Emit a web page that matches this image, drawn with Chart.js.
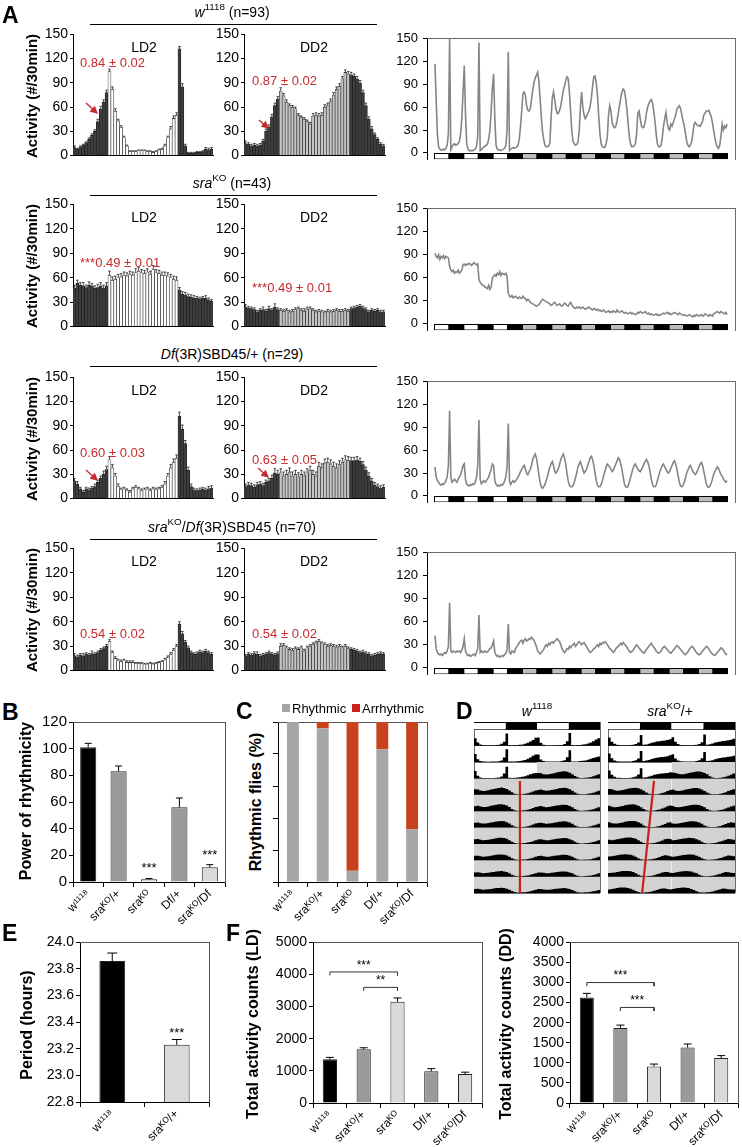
<!DOCTYPE html>
<html>
<head>
<meta charset="utf-8">
<script src="https://cdn.jsdelivr.net/npm/chart.js@4.4.1/dist/chart.umd.min.js"></script>
<style>
  body { margin: 0; background: #fff; }
  #page { position: relative; width: 742px; height: 1147px; overflow: hidden; font-family: "Liberation Sans", Arial, sans-serif; color: #000; }
  #page canvas { position: absolute; }
  .txt { position: absolute; white-space: nowrap; line-height: 1; z-index: 2; }
  .yt { position: absolute; white-space: nowrap; line-height: 1; font-weight: bold; z-index: 2; transform: translate(-50%, -50%) rotate(-90deg); }
  .rule { position: absolute; height: 0; border-top: 1.5px solid #000; }
  .sq { position: absolute; width: 8px; height: 8px; }
  sup { font-size: 70%; line-height: 0; position: relative; top: -0.1em; vertical-align: super; }
</style>
</head>
<body>
<div id="page"></div>
<script>
// ---------- data ----------
// 30-min activity profiles, bins from ZT18 (LD2) / CT18 (DD2)
const ldW1118 = [10,8,11,13,16,20,25,30,42,58,66,78, 104,82,55,43,35,22,12,5,5,5,6,6,6,5,5,4,5,7,8,12,22,33,46,50, 132,85,12,3,3,3,4,4,5,8,7,8];
const ldW1118Err = [2,1,1,1,1,2,2,2,3,3,3,3, 3,3,3,2,2,2,1,1,1,1,1,1,1,1,1,1,1,1,1,2,2,3,3,3, 3,4,2,1,1,1,1,1,1,2,2,2];
const ddW1118 = [15,14,12,13,12,13,18,30,35,48,62,70, 80,74,66,62,60,58,50,47,45,42,39,49,50,49,50,60,62,67,75,82,86,95,103,101, 100,98,95,90,78,62,45,33,26,20,14,12];
const ddW1118Err = [3,2,2,2,2,2,2,3,3,3,3,3, 4,3,3,2,2,2,2,2,2,2,2,3,3,3,3,3,3,3,3,3,3,3,3,3, 3,3,3,3,3,3,3,3,2,2,2,2];
const ldSra = [47,53,51,50,48,51,50,47,48,50,47,50, 63,57,58,60,61,63,62,64,63,66,68,66,65,67,64,70,66,65,63,63,62,60,58,57, 45,40,39,37,36,35,35,34,35,35,33,31];
const ldSraErr = [4,4,3,4,3,4,3,3,4,4,4,4, 5,4,4,4,4,4,4,4,4,5,5,4,4,4,4,5,4,4,4,4,4,4,4,4, 3,3,3,3,3,3,2,2,2,3,2,2];
const ddSra = [24,23,22,21,18,20,21,19,22,20,24,21, 20,19,20,18,19,21,22,20,19,21,22,20,18,19,18,17,19,18,19,20,19,19,20,19, 22,23,24,25,23,21,18,20,19,20,18,18];
const ddSraErr = [3,2,2,2,2,2,3,2,3,2,4,2, 2,2,2,2,2,2,2,2,3,3,2,2,2,2,2,2,2,2,2,2,2,2,2,2, 2,2,2,2,2,2,2,2,2,2,2,2];
const ldDf = [22,18,12,8,12,11,13,15,20,25,30,36, 48,38,28,15,11,12,10,8,12,14,12,10,11,12,10,12,11,12,14,18,28,38,45,50, 102,86,68,35,15,11,10,11,12,11,12,13];
const ldDfErr = [3,3,2,2,2,2,2,3,3,3,4,4, 4,4,3,3,2,2,2,2,2,2,2,2,2,2,2,2,2,2,2,3,3,4,4,4, 5,5,4,4,3,2,2,2,2,2,3,3];
const ddDf = [15,17,16,14,17,18,16,20,22,25,32,30, 32,28,30,33,28,30,27,30,28,32,35,30,28,40,38,44,45,43,40,38,42,45,48,47, 47,47,48,46,42,35,28,22,17,15,13,14];
const ddDfErr = [3,3,3,3,3,3,3,3,3,4,5,5, 5,5,5,5,5,5,5,5,5,5,5,5,5,5,5,5,5,5,5,5,5,5,5,5, 4,4,4,4,4,4,4,3,3,3,3,3];
const ldSraDf = [18,17,19,18,20,19,21,20,22,25,27,30, 36,22,15,12,11,12,10,10,10,9,9,9,8,8,9,8,9,10,11,13,16,20,25,30, 57,45,35,28,22,20,21,23,22,24,22,20];
const ldSraDfErr = [3,2,2,3,2,2,3,2,2,2,2,2, 2,2,2,2,2,2,2,2,2,1,1,1,1,1,1,1,1,1,1,2,2,2,2,2, 3,3,2,2,2,2,2,2,2,2,2,2];
const ddSraDf = [18,20,19,21,20,18,19,20,22,20,19,21, 30,31,28,26,25,27,26,28,24,28,30,32,34,36,33,32,30,31,30,29,30,28,30,27, 26,25,24,22,23,21,20,18,19,20,21,20];
const ddSraDfErr = [2,2,2,2,3,2,2,2,2,2,2,2, 3,2,2,2,2,2,2,2,2,2,2,2,2,2,2,2,2,2,2,2,2,2,2,2, 2,2,2,2,2,2,2,2,2,2,2,2];

// hourly activity over 10 days (3 LD + 7 DD)
const traceW1118 = [
  117,70,25,8,5,4,4,5,4,6,10,25,150,4,8,11,12,10,11,12,15,25,45,80,
  115,50,12,5,3,3,3,3,4,5,8,22,145,3,4,6,8,9,10,12,18,30,55,85,
  104,45,10,5,4,4,3,4,5,6,10,30,133,3,5,6,7,6,7,8,10,18,35,55,
  78,80,76,62,56,55,58,70,82,92,98,102,106,95,72,48,28,18,10,8,8,9,12,45,
  72,80,70,58,52,52,56,62,72,82,88,95,100,98,80,55,28,15,12,10,11,14,28,60,
  80,60,50,45,48,52,55,62,72,88,100,101,92,75,48,25,12,8,7,7,12,20,50,62,
  55,40,35,33,35,42,52,62,72,80,84,82,72,58,40,22,12,8,8,9,12,25,52,55,
  45,35,33,34,40,52,60,65,68,70,66,55,42,25,12,8,8,10,20,35,45,53,40,32,
  30,38,35,40,45,50,58,60,62,58,50,42,35,25,15,10,8,10,15,25,38,40,37,36,
  36,35,38,42,50,52,55,55,56,52,48,40,30,20,12,8,6,10,22,38,30,35,33,38
];
const traceSra = [
  92,88,86,90,84,88,86,89,85,88,87,86, 75,70,68,70,66,68,67,70,66,68,70,77,
  78,76,78,77,79,78,76,78,80,78,77,78, 58,54,52,50,50,48,47,46,50,45,48,60,
  62,64,62,66,64,68,63,66,65,64,66,62, 40,36,35,37,34,35,36,34,33,35,34,33,
  36,34,33,30,32,31,28,27,26,25,24,23, 24,25,27,30,32,31,30,29,28,27,26,24,
  25,27,28,26,24,25,26,24,23,25,27,26, 24,23,26,28,25,22,21,20,22,21,22,20,
  21,22,20,19,20,21,22,20,19,18,20,19, 18,19,17,18,16,17,18,16,15,16,17,15,
  16,15,17,16,15,18,16,15,16,17,15,14, 15,14,13,14,15,13,14,13,12,13,15,14,
  16,15,14,15,16,14,13,14,12,13,12,11, 12,13,11,12,11,12,13,14,13,14,15,13,
  14,12,13,14,15,14,13,12,14,13,12,11, 12,11,10,11,12,11,10,9,11,10,12,11,
  10,11,12,10,11,13,12,11,10,12,11,10, 13,14,15,16,15,14,16,15,14,13,15,12
];
const traceDf = [
  38,25,20,18,15,14,16,15,17,20,25,40,112,25,18,20,22,20,18,22,25,28,33,40,
  42,22,15,14,13,15,14,16,15,18,24,40,100,22,16,18,20,18,20,22,25,30,35,42,
  40,20,15,13,14,13,15,14,16,20,25,38,95,20,15,18,20,18,20,22,25,28,32,35,
  38,40,35,30,28,32,35,40,48,52,55,50,40,28,18,12,10,12,15,20,25,32,38,42,
  45,40,32,30,33,36,42,48,52,55,50,42,30,20,14,12,12,14,18,24,30,38,42,45,
  40,35,30,32,35,40,45,50,52,48,40,30,20,14,12,12,15,20,26,32,38,42,40,38,
  35,32,34,38,42,46,50,48,42,35,25,16,12,11,13,18,24,30,36,40,42,38,35,33,
  32,35,38,42,45,48,45,40,32,22,15,12,12,14,20,26,32,36,40,42,38,35,32,30,
  32,36,40,44,46,42,35,26,18,13,12,14,18,24,30,34,38,40,36,32,30,28,30,34,
  38,42,44,40,32,24,16,12,11,13,17,22,28,32,35,38,36,32,28,26,22,20,18,20
];
const traceSraDf = [
  42,25,20,18,17,18,16,18,20,19,22,28,85,22,20,22,21,20,22,21,22,20,23,28,
  38,22,18,16,17,15,16,17,18,16,20,25,69,20,22,20,21,22,20,21,23,25,26,30,
  35,20,17,15,16,14,15,16,15,17,19,23,57,20,18,22,21,20,25,28,30,33,35,36,
  32,36,38,35,36,38,37,40,38,36,32,28,22,20,18,20,22,24,28,30,28,32,30,33,
  34,32,35,36,38,36,34,30,25,22,20,22,25,24,28,26,29,30,32,28,30,33,34,32,
  30,32,33,30,28,25,22,20,21,23,25,26,28,30,28,32,30,33,32,34,33,30,28,25,
  24,22,20,22,25,27,28,30,32,30,33,31,29,27,24,22,20,21,23,25,28,30,28,26,
  24,22,20,19,21,24,26,28,30,32,29,27,25,22,20,19,20,22,25,27,28,26,24,22,
  20,19,21,23,25,27,29,28,26,24,22,20,18,17,19,21,24,26,28,27,25,22,20,18,
  17,18,20,22,24,26,28,27,25,22,20,18,17,16,18,20,22,24,26,25,23,20,18,17
];
// light regime of each 12 h block: L light, D dark, S subjective day
const traceRegime = ['L','D','L','D','L','D','S','D','S','D','S','D','S','D','S','D','S','D','S','D'];

// B, C, E, F
const genoLabels = ['w¹¹¹⁸', 'sraᴷᴼ/+', 'sraᴷᴼ', 'Df/+', 'sraᴷᴼ/Df'];
const powerRhythm = [101, 83, 2, 56, 11];
const powerRhythmErr = [3, 4, 0.6, 7, 2];
const rhythmicPct = [100, 96, 7, 83, 33];
const arrhythmicPct = [0, 4, 93, 17, 67];
const periodLabels = ['w¹¹¹⁸', 'sraᴷᴼ/+'];
const periodHours = [23.86, 23.23];
const periodErr = [0.06, 0.04];
const totalLD = [1360, 1670, 3150, 990, 900];
const totalLDErr = [60, 50, 120, 80, 60];
const totalDD = [2630, 1870, 910, 1380, 1120];
const totalDDErr = [100, 70, 60, 90, 60];

// D: double-plotted actograms, hourly, 0-10 = fraction of row height
const actoDays = ['LD','LD','LD','DD','DD','DD','DD','DD','DD','DD','DD'];
const actoHeader = ['L','D','L','D'];
const actoW1118 = [
  [4.5,2.0,0.8,0.4,0.3,0.3,0.3,0.3,0.4,0.6,1.2,2.5,7.5,0.4,0.3,0.4,0.5,0.6,0.8,1.2,1.8,2.6,3.5,4.8],
  [5.0,1.8,0.6,0.3,0.3,0.2,0.3,0.3,0.4,0.5,1.0,2.8,7.8,0.4,0.3,0.4,0.5,0.7,0.9,1.3,2.0,2.8,3.8,4.6],
  [4.6,1.6,0.6,0.3,0.3,0.3,0.3,0.3,0.4,0.6,1.2,3.0,7.2,0.4,0.3,0.4,0.6,0.8,1.0,1.4,2.0,2.5,3.0,3.4],
  [3.4,3.2,2.6,2.4,2.5,2.8,3.2,3.6,3.9,4.2,4.4,4.1,3.5,2.6,1.5,0.7,0.3,0.3,0.4,0.6,0.9,1.4,2.0,2.6],
  [3.0,3.3,2.8,2.5,2.6,2.9,3.3,3.6,4.0,4.2,4.3,4.0,3.4,2.5,1.4,0.6,0.3,0.3,0.4,0.6,0.9,1.3,1.9,2.5],
  [2.9,3.1,2.7,2.4,2.5,2.8,3.1,3.4,3.7,3.9,4.0,3.8,3.2,2.4,1.4,0.6,0.3,0.3,0.4,0.5,0.8,1.2,1.8,2.4],
  [2.8,3.0,2.6,2.3,2.4,2.6,2.9,3.2,3.5,3.7,3.8,3.6,3.1,2.3,1.3,0.6,0.3,0.3,0.4,0.5,0.8,1.2,1.7,2.3],
  [2.7,2.8,2.5,2.2,2.3,2.5,2.8,3.1,3.3,3.5,3.6,3.4,2.9,2.2,1.3,0.6,0.3,0.3,0.4,0.5,0.8,1.1,1.6,2.2],
  [2.6,2.7,2.4,2.1,2.2,2.4,2.7,2.9,3.1,3.3,3.4,3.2,2.8,2.1,1.2,0.6,0.3,0.3,0.4,0.5,0.7,1.1,1.6,2.1],
  [2.5,2.6,2.3,2.0,2.1,2.3,2.5,2.8,3.0,3.1,3.2,3.0,2.6,2.0,1.2,0.6,0.3,0.3,0.4,0.5,0.7,1.0,1.5,2.0],
  [2.4,2.5,2.2,2.0,2.0,2.2,2.4,2.6,2.8,2.9,3.0,2.8,2.5,1.9,1.1,0.5,0.3,0.3,0.4,0.5,0.7,1.0,1.4,1.9]
];
const actoSraHet = [
  [5.0,2.5,1.2,0.6,0.4,0.3,0.3,0.3,0.4,0.6,1.0,2.0,6.5,0.6,0.8,1.2,1.8,2.2,2.6,2.8,3.0,3.2,3.5,4.0],
  [5.2,2.4,1.0,0.5,0.4,0.3,0.3,0.3,0.4,0.6,1.1,2.2,6.8,0.6,0.9,1.3,1.9,2.3,2.6,2.9,3.1,3.3,3.6,4.2],
  [4.8,2.2,1.0,0.5,0.4,0.3,0.3,0.3,0.4,0.7,1.2,2.4,6.2,0.6,0.8,1.2,1.7,2.2,2.5,2.8,3.0,3.2,3.4,3.8],
  [3.6,3.4,2.8,2.5,2.6,2.9,3.3,3.7,4.0,4.2,4.3,4.0,3.4,2.5,1.4,0.6,0.3,0.3,0.4,0.7,1.1,1.6,2.3,3.0],
  [3.3,2.7,2.4,2.5,2.8,3.2,3.6,3.9,4.1,4.2,3.9,3.3,2.4,1.4,0.6,0.3,0.3,0.4,0.7,1.1,1.6,2.3,3.0,3.4],
  [3.2,2.6,2.4,2.5,2.8,3.1,3.5,3.8,4.0,4.0,3.8,3.2,2.4,1.3,0.6,0.3,0.3,0.4,0.7,1.0,1.6,2.2,2.9,3.3],
  [2.5,2.3,2.5,2.8,3.1,3.4,3.7,3.9,3.9,3.6,3.1,2.3,1.3,0.6,0.3,0.3,0.4,0.6,1.0,1.5,2.1,2.8,3.2,3.0],
  [2.3,2.4,2.7,3.0,3.3,3.5,3.7,3.6,3.4,2.9,2.2,1.3,0.6,0.3,0.3,0.4,0.6,1.0,1.4,2.0,2.6,3.0,2.9,2.5],
  [2.2,2.3,2.6,2.9,3.2,3.4,3.5,3.5,3.3,2.8,2.1,1.2,0.6,0.3,0.3,0.4,0.6,0.9,1.4,1.9,2.5,2.9,2.8,2.4],
  [2.2,2.5,2.8,3.1,3.3,3.4,3.3,3.1,2.6,2.0,1.2,0.6,0.3,0.3,0.4,0.6,0.9,1.3,1.8,2.4,2.8,2.7,2.4,2.2],
  [2.4,2.7,3.0,3.2,3.3,3.2,3.0,2.5,1.9,1.1,0.5,0.3,0.3,0.4,0.6,0.9,1.3,1.8,2.3,2.7,2.6,2.3,2.1,2.2]
];

// ---------- setup ----------
const FONT = '"Liberation Sans", Arial, sans-serif';
Chart.defaults.font.family = FONT;
Chart.defaults.font.size = 13;
Chart.defaults.color = '#000';
Chart.defaults.animation = false;
Chart.defaults.plugins.legend.display = false;
Chart.defaults.plugins.tooltip.enabled = false;

const DARK = '#3d3d3d', DDGREY = '#c4c4c4', MID = '#9a9a9a', PALE = '#d9d9d9', RED = '#c62a2c';
const regimeColor = {L: '#ffffff', D: '#000000', S: '#bcbcbc'};
const page = document.getElementById('page');

function canvasFor(area, pad) {
  const c = document.createElement('canvas');
  const left = area.l - pad.l, top = area.t - pad.t;
  const w = area.r - left + pad.r, h = area.b - top + pad.b;
  c.width = w; c.height = h;
  c.style.left = left + 'px'; c.style.top = top + 'px';
  c.style.width = w + 'px'; c.style.height = h + 'px';
  page.appendChild(c);
  return c;
}

const errPlugin = {
  id: 'errbars',
  afterDatasetsDraw(chart, args, opts) {
    const ctx = chart.ctx, ys = chart.scales.y;
    chart.data.datasets.forEach((ds, di) => {
      if (!ds.errs) return;
      const meta = chart.getDatasetMeta(di);
      ctx.save();
      ctx.strokeStyle = opts.color || '#000';
      ctx.lineWidth = opts.width || 1;
      meta.data.forEach((bar, i) => {
        const top = ys.getPixelForValue(ds.data[i] + ds.errs[i]);
        ctx.beginPath();
        ctx.moveTo(bar.x, bar.y);
        ctx.lineTo(bar.x, top);
        ctx.moveTo(bar.x - opts.cap, top);
        ctx.lineTo(bar.x + opts.cap, top);
        ctx.stroke();
      });
      ctx.restore();
    });
  }
};

const notePlugin = {
  id: 'notes',
  afterDatasetsDraw(chart, args, opts) {
    const ctx = chart.ctx;
    ctx.save();
    ctx.fillStyle = '#000';
    ctx.font = (opts.size || 13) + 'px ' + FONT;
    ctx.textAlign = 'center';
    ctx.textBaseline = 'middle';
    (opts.items || []).forEach(n => {
      ctx.fillText(n.text, chart.scales.x.getPixelForValue(n.i), chart.scales.y.getPixelForValue(n.v));
    });
    ctx.restore();
  }
};

function frameScales(color) {
  return {
    xt: {type: 'linear', position: 'top', grid: {display: false}, ticks: {display: false}, border: {color: color}, afterFit: s => { s.height = 0; }},
    yr: {type: 'linear', position: 'right', grid: {display: false}, ticks: {display: false}, border: {color: color}, afterFit: s => { s.width = 0; }}
  };
}

// ---------- panel A ----------
function profileChart(area, values, errs, lightColor) {
  const pad = {l: 40, t: 10, r: 3, b: 3};
  new Chart(canvasFor(area, pad), {
    type: 'bar',
    data: {
      labels: values.map((v, i) => i),
      datasets: [{
        data: values, errs: errs,
        backgroundColor: values.map((v, i) => (i < 12 || i >= 36) ? DARK : lightColor),
        borderColor: '#1a1a1a', borderWidth: 0.6,
        barPercentage: 1, categoryPercentage: 1
      }]
    },
    options: {
      responsive: false,
      layout: {autoPadding: false, padding: {top: pad.t, right: pad.r}},
      scales: {
        x: {grid: {display: false}, ticks: {display: false}, border: {color: '#000'}, afterFit: s => { s.height = pad.b; }},
        y: {min: 0, max: 150, ticks: {stepSize: 30, font: {size: 14}, padding: 2},
            grid: {drawOnChartArea: false, tickLength: 3, color: '#000'}, border: {color: '#000'},
            afterFit: s => { s.width = pad.l; }}
      },
      plugins: {errbars: {cap: 1.3, width: 0.8, color: '#222'}}
    },
    plugins: [errPlugin]
  });
}

function traceChart(area, values) {
  const pad = {l: 34, t: 8, r: 3, b: 2};
  new Chart(canvasFor(area, pad), {
    data: {
      datasets: [
        {type: 'line', data: values.map((v, i) => ({x: i + 0.5, y: v})), borderColor: '#858585', borderWidth: 1.6, pointRadius: 0, order: 1},
        {type: 'bar', data: traceRegime.map((p, k) => ({x: 6 + 12 * k, y: [-8.3, 0]})),
         backgroundColor: traceRegime.map(p => regimeColor[p]), borderColor: '#000', borderWidth: 1,
         borderSkipped: false, barPercentage: 1, categoryPercentage: 1, order: 2}
      ]
    },
    options: {
      responsive: false,
      layout: {autoPadding: false, padding: {top: pad.t, right: pad.r}},
      scales: {
        x: {type: 'linear', min: 0, max: 240, ticks: {display: false, stepSize: 12}, grid: {display: false}, border: {display: false}, afterFit: s => { s.height = pad.b; }},
        y: {min: -8.3, max: 150, ticks: {stepSize: 30, includeBounds: false, font: {size: 13}, padding: 5},
            grid: {drawOnChartArea: false, tickLength: 4, color: '#000'}, border: {color: '#000'},
            afterFit: s => { s.width = pad.l; }},
        ...frameScales('#6a6a6a')
      }
    }
  });
}

const rowTop = [34, 204, 377, 548];
const rowBottom = [163, 334, 506, 678];
const rows = [
  [ldW1118, ldW1118Err, ddW1118, ddW1118Err, traceW1118],
  [ldSra, ldSraErr, ddSra, ddSraErr, traceSra],
  [ldDf, ldDfErr, ddDf, ddDfErr, traceDf],
  [ldSraDf, ldSraDfErr, ddSraDf, ddSraDfErr, traceSraDf]
];
rows.forEach((r, k) => {
  profileChart({l: 73, t: rowTop[k], r: 213, b: rowBottom[k]}, r[0], r[1], '#ffffff');
  profileChart({l: 244, t: rowTop[k], r: 385, b: rowBottom[k]}, r[2], r[3], DDGREY);
  traceChart({l: 427, t: rowTop[k], r: 735, b: rowBottom[k] + 7}, r[4]);
});

// ---------- panel B ----------
const genoColors = ['#000000', MID, PALE, MID, PALE];
const catX = (rot) => ({
  grid: {drawOnChartArea: false, tickLength: 5, color: '#000'}, border: {color: '#000'},
  ticks: {font: {size: 12}, minRotation: rot, maxRotation: rot, autoSkip: false, padding: 0}
});
(function () {
  const pad = {l: 46, t: 10, r: 3, b: 62};
  new Chart(canvasFor({l: 73, t: 721, r: 225, b: 882}, pad), {
    type: 'bar',
    data: {labels: genoLabels, datasets: [{data: powerRhythm, errs: powerRhythmErr, backgroundColor: genoColors, borderColor: '#222', borderWidth: 1, barPercentage: 0.53, categoryPercentage: 1}]},
    options: {
      responsive: false,
      layout: {autoPadding: false, padding: {top: pad.t, right: pad.r}},
      scales: {
        x: {...catX(45), afterFit: s => { s.height = pad.b; }},
        y: {min: 0, max: 120, ticks: {stepSize: 20, font: {size: 15}, padding: 2},
            grid: {drawOnChartArea: false, tickLength: 4, color: '#000'}, border: {color: '#000'},
            afterFit: s => { s.width = pad.l; }},
        ...frameScales('#555')
      },
      plugins: {errbars: {cap: 3.5, width: 1}, notes: {size: 13, items: [{i: 2, v: 10, text: '***'}, {i: 4, v: 20, text: '***'}]}}
    },
    plugins: [errPlugin, notePlugin]
  });
})();

// ---------- panel C ----------
(function () {
  const pad = {l: 8, t: 10, r: 3, b: 62};
  new Chart(canvasFor({l: 278, t: 722, r: 427, b: 882}, pad), {
    type: 'bar',
    data: {labels: genoLabels, datasets: [
      {label: 'Rhythmic', data: rhythmicPct, backgroundColor: '#a6a6a6', barPercentage: 0.4, categoryPercentage: 1},
      {label: 'Arrhythmic', data: arrhythmicPct, backgroundColor: '#c8431d', barPercentage: 0.4, categoryPercentage: 1}
    ]},
    options: {
      responsive: false,
      layout: {autoPadding: false, padding: {top: pad.t, right: pad.r}},
      scales: {
        x: {...catX(45), stacked: true, afterFit: s => { s.height = pad.b; }},
        y: {stacked: true, min: 0, max: 100, ticks: {stepSize: 20, display: false},
            grid: {drawOnChartArea: false, tickLength: 5, color: '#000'}, border: {color: '#000'},
            afterFit: s => { s.width = pad.l; }},
        ...frameScales('#555')
      }
    }
  });
})();

// ---------- panel D ----------
// a filled band between y0 and y1 over [x0, x1]
function band(x0, x1, y0, y1, fillColor, lineColor, order) {
  return {type: 'line', data: [{x: x0, y: y1}, {x: x1, y: y1}], fill: {value: y0},
    backgroundColor: fillColor, borderColor: lineColor || fillColor, borderWidth: lineColor ? 1 : 0,
    pointRadius: 0, order: order};
}
function actogram(area, days, redLine) {
  const datasets = [];
  // light/dark bar on top
  actoHeader.forEach((p, k) => datasets.push(band(12 * k, 12 * k + 12, 10, 10.42, regimeColor[p], '#000', 5)));
  datasets.push({type: 'line', data: [{x: 0, y: 10}, {x: 48, y: 10}], borderColor: '#000', borderWidth: 1, pointRadius: 0, order: 5});
  // grey shading of constant-darkness halves
  for (let r = 0; r < 10; r++) {
    for (let h = 0; h < 2; h++) {
      if (actoDays[r + h] === 'DD') datasets.push(band(24 * h, 24 * h + 24, 9 - r, 10 - r, '#d2d2d2', null, 4));
    }
  }
  for (let r = 0; r < 10; r++) {
    const base = 9 - r;
    const pts = [];
    [days[r], days[r + 1]].forEach((day, h) => day.forEach((v, i) => pts.push({x: 24 * h + i, y: base + v / 10})));
    pts.push({x: 48, y: base});
    datasets.push({type: 'line', data: pts, stepped: true, fill: {value: base},
      backgroundColor: '#000', borderColor: '#000', borderWidth: 0, pointRadius: 0, order: 2});
  }
  datasets.push({type: 'line', data: redLine, borderColor: '#c81e1e', borderWidth: 2.2, pointRadius: 0, order: 1});
  new Chart(canvasFor(area, {l: 1, t: 1, r: 1, b: 1}), {
    data: {datasets},
    options: {
      responsive: false,
      layout: {autoPadding: false, padding: {top: 1, right: 1}},
      scales: {
        x: {type: 'linear', min: 0, max: 48, z: 1, ticks: {display: false, stepSize: 48}, grid: {color: '#6a6a6a', drawTicks: false}, border: {display: false}, afterFit: s => { s.height = 1; }},
        y: {min: 0, max: 10.45, z: 1, ticks: {display: false, stepSize: 1}, grid: {color: '#6a6a6a', drawTicks: false}, border: {display: false}, afterFit: s => { s.width = 1; }}
      }
    }
  });
}
actogram({l: 474, t: 722, r: 600, b: 893}, actoW1118, [{x: 17.5, y: 6.85}, {x: 17.5, y: 0}]);
actogram({l: 608, t: 722, r: 735, b: 893}, actoSraHet, [{x: 17.4, y: 6.85}, {x: 12.9, y: 0}]);

// ---------- panel E ----------
(function () {
  const pad = {l: 48, t: 10, r: 3, b: 44};
  new Chart(canvasFor({l: 80, t: 942, r: 209, b: 1102}, pad), {
    type: 'bar',
    data: {labels: periodLabels, datasets: [{data: periodHours, errs: periodErr, backgroundColor: ['#000000', PALE], borderColor: '#222', borderWidth: 1, barPercentage: 0.4, categoryPercentage: 1}]},
    options: {
      responsive: false,
      layout: {autoPadding: false, padding: {top: pad.t, right: pad.r}},
      scales: {
        x: {...catX(45), afterFit: s => { s.height = pad.b; }},
        y: {min: 22.8, max: 24.0, ticks: {stepSize: 0.2, font: {size: 14}, padding: 2, callback: v => v.toFixed(1)},
            grid: {drawOnChartArea: false, tickLength: 4, color: '#000'}, border: {color: '#000'},
            afterFit: s => { s.width = pad.l; }},
        ...frameScales('#555')
      },
      plugins: {errbars: {cap: 5, width: 1}, notes: {size: 13, items: [{i: 1, v: 23.315, text: '***'}]}}
    },
    plugins: [errPlugin, notePlugin]
  });
})();

// ---------- panel F ----------
function bracket(a, b, y, drop) {
  return {type: 'line', data: [{x: genoLabels[a], y: y - drop}, {x: genoLabels[a], y: y}, {x: genoLabels[b], y: y}, {x: genoLabels[b], y: y - drop}],
    borderColor: '#333', borderWidth: 1, pointRadius: 0, order: 0};
}
function totalChart(area, values, errs, max, step, brackets, notes) {
  const pad = {l: 48, t: 10, r: 3, b: 44};
  new Chart(canvasFor(area, pad), {
    type: 'bar',
    data: {labels: genoLabels, datasets: [
      {data: values, errs: errs, backgroundColor: genoColors, borderColor: '#222', borderWidth: 1, barPercentage: 0.42, categoryPercentage: 1, order: 1},
      ...brackets
    ]},
    options: {
      responsive: false,
      layout: {autoPadding: false, padding: {top: pad.t, right: pad.r}},
      scales: {
        x: {...catX(45), afterFit: s => { s.height = pad.b; }},
        y: {min: 0, max: max, ticks: {stepSize: step, font: {size: 14}, padding: 2, callback: v => String(v)},
            grid: {drawOnChartArea: false, tickLength: 4, color: '#000'}, border: {color: '#000'},
            afterFit: s => { s.width = pad.l; }},
        ...frameScales('#555')
      },
      plugins: {errbars: {cap: 4, width: 1}, notes: {size: 12, items: notes}}
    },
    plugins: [errPlugin, notePlugin]
  });
}
totalChart({l: 313, t: 942, r: 482, b: 1103}, totalLD, totalLDErr, 5000, 1000,
  [bracket(0, 2, 4080, 110), bracket(1, 2, 3600, 110)],
  [{i: 1, v: 4290, text: '***'}, {i: 1.5, v: 3810, text: '**'}]);
totalChart({l: 570, t: 942, r: 738, b: 1103}, totalDD, totalDDErr, 4000, 500,
  [bracket(0, 2, 3000, 90), bracket(1, 2, 2380, 90)],
  [{i: 1, v: 3170, text: '***'}, {i: 1.5, v: 2550, text: '***'}]);

// ---------- text ----------
function text(html, x, cy, size, opts) {
  opts = opts || {};
  const d = document.createElement('div');
  d.className = 'txt';
  d.innerHTML = html;
  d.style.fontSize = size + 'px';
  d.style.left = x + 'px';
  d.style.top = (cy - size / 2) + 'px';
  if (opts.center) d.style.transform = 'translateX(-50%)';
  if (opts.bold) d.style.fontWeight = 'bold';
  if (opts.color) d.style.color = opts.color;
  page.appendChild(d);
}
function ytitle(str, cx, cy, size) {
  const d = document.createElement('div');
  d.className = 'yt';
  d.textContent = str;
  d.style.fontSize = size + 'px';
  d.style.left = cx + 'px';
  d.style.top = cy + 'px';
  page.appendChild(d);
}
function rule(x1, x2, y) {
  const d = document.createElement('div');
  d.className = 'rule';
  d.style.left = x1 + 'px'; d.style.width = (x2 - x1) + 'px'; d.style.top = y + 'px';
  page.appendChild(d);
}

// panel letters
[['A', 2, 15], ['B', 2, 712], ['C', 236, 711], ['D', 456, 711], ['E', 2, 933], ['F', 226, 933]]
  .forEach(p => text(p[0], p[1], p[2], 23, {bold: true}));

const rowTitles = [
  '<i>w</i><sup>1118</sup> (n=93)',
  '<i>sra</i><sup>KO</sup> (n=43)',
  '<i>Df</i>(3R)SBD45/+ (n=29)',
  '<i>sra</i><sup>KO</sup>/<i>Df</i>(3R)SBD45 (n=70)'
];
const ruleY = [24, 195, 366, 539];
const redNotes = [
  ['0.84 ± 0.02', '0.87 ± 0.02', 62, 80],
  ['***0.49 ± 0.01', '***0.49 ± 0.01', 262, 287],
  ['0.60 ± 0.03', '0.63 ± 0.05', 452, 459],
  ['0.54 ± 0.02', '0.54 ± 0.02', 633, 633]
];
for (let k = 0; k < 4; k++) {
  text(rowTitles[k], 232, ruleY[k] - 12, 14, {center: true});
  rule(90, 377, ruleY[k]);
  text('LD2', 144, rowTop[k] + 13, 14, {center: true});
  text('DD2', 314, rowTop[k] + 13, 14, {center: true});
  text(redNotes[k][0], 80, redNotes[k][2], 13, {color: RED});
  text(redNotes[k][1], 252, redNotes[k][3], 13, {color: RED});
  ytitle('Activity (#/30min)', 31, (rowTop[k] + rowBottom[k]) / 2 - 3, 15);
}

ytitle('Power of rhythmicity', 26, 801, 16);
ytitle('Rhythmic flies (%)', 256, 802, 16);
ytitle('Period (hours)', 27, 1025, 16);
ytitle('Total activity counts (LD)', 253, 1024, 16);
ytitle('Total activity counts (DD)', 506, 1024, 16);

// legend C
const sq1 = document.createElement('div'); sq1.className = 'sq'; sq1.style.cssText = 'left:282px;top:704px;background:#a6a6a6;';
const sq2 = document.createElement('div'); sq2.className = 'sq'; sq2.style.cssText = 'left:352px;top:704px;background:#c8201a;';
page.appendChild(sq1); page.appendChild(sq2);
text('Rhythmic', 292, 708, 13);
text('Arrhythmic', 362, 708, 13);

// D titles
text('<i>w</i><sup>1118</sup>', 537, 711, 14, {center: true});
text('<i>sra</i><sup>KO</sup>/+', 670, 711, 14, {center: true});

// red arrows in A
const svgNS = 'http://www.w3.org/2000/svg';
const svg = document.createElementNS(svgNS, 'svg');
svg.setAttribute('width', 742); svg.setAttribute('height', 1147);
svg.style.cssText = 'position:absolute;left:0;top:0;z-index:3;';
svg.innerHTML = '<defs><marker id="ah" markerWidth="6" markerHeight="6" refX="5" refY="3" orient="auto"><path d="M0,0 L6,3 L0,6 z" fill="' + RED + '"/></marker></defs>';
[[86, 103, 97, 113], [259, 120, 268, 128], [86, 470, 97, 480], [258, 468, 268, 477]].forEach(a => {
  const l = document.createElementNS(svgNS, 'line');
  l.setAttribute('x1', a[0]); l.setAttribute('y1', a[1]); l.setAttribute('x2', a[2]); l.setAttribute('y2', a[3]);
  l.setAttribute('stroke', RED); l.setAttribute('stroke-width', 1.3); l.setAttribute('marker-end', 'url(#ah)');
  svg.appendChild(l);
});
page.appendChild(svg);
</script>
</body>
</html>
